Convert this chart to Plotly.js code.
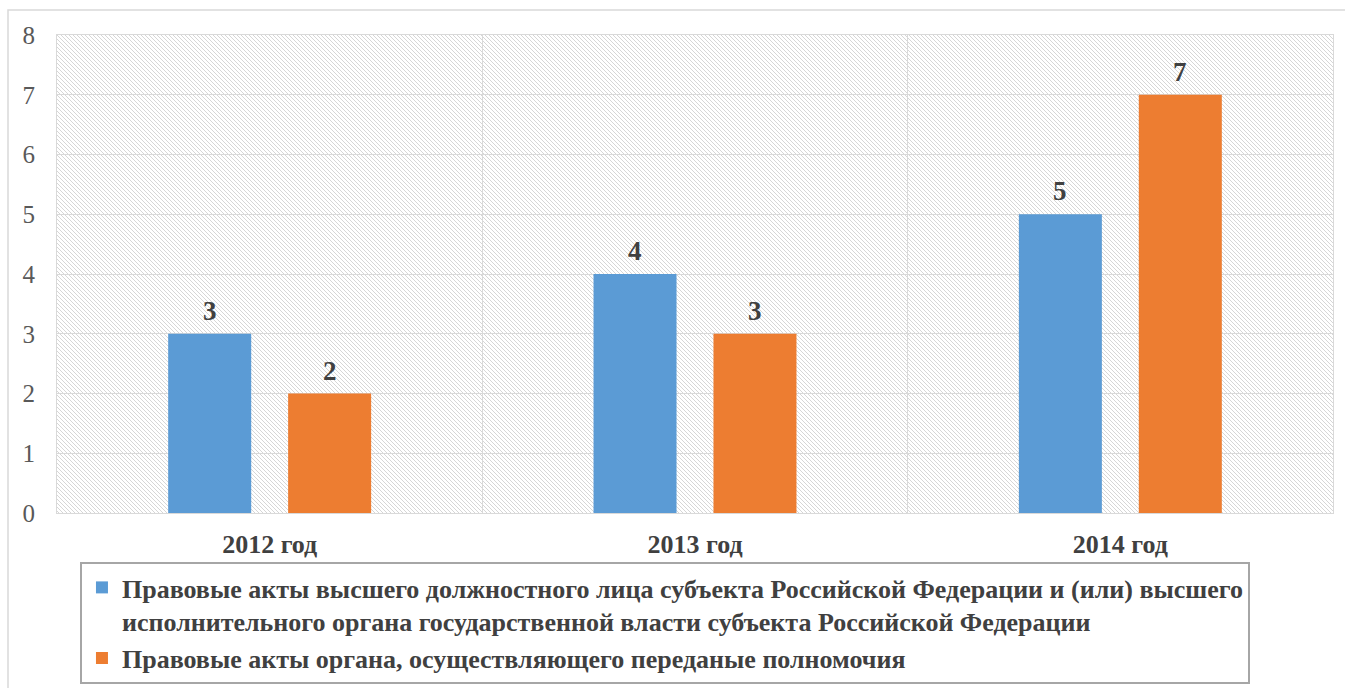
<!DOCTYPE html>
<html>
<head>
<meta charset="utf-8">
<script src="https://cdn.plot.ly/plotly-3.0.1.min.js"></script>
<style>html,body{margin:0;padding:0;background:#fff;}#chart{width:1345px;height:688px;}</style>
</head>
<body>
<div id="chart"></div>
<script>
const categories = ["2012 год", "2013 год", "2014 год"];
const seriesNames = [
  "Правовые акты высшего должностного лица субъекта Российской Федерации и (или) высшего<br>исполнительного органа государственной власти субъекта Российской Федерации",
  "Правовые акты органа, осуществляющего переданые полномочия"
];
const seriesA = [3, 4, 5];
const seriesB = [2, 3, 7];
const yTicks = [0, 1, 2, 3, 4, 5, 6, 7, 8];

const colors = ["#5B9BD5", "#ED7D31"];
const serif = "'Liberation Serif', 'Times New Roman', serif";

const traces = [seriesA, seriesB].map((vals, k) => ({
  type: "bar",
  name: seriesNames[k],
  x: categories,
  y: vals,
  marker: { color: colors[k] },
  hoverinfo: "skip"
}));

// data labels from the series arrays
const annotations = [];
[seriesA, seriesB].forEach((vals, k) => {
  vals.forEach((v, i) => {
    annotations.push({
      x: categories[i], y: v, xref: "x", yref: "y",
      text: "<b>" + v + "</b>", showarrow: false,
      xshift: k === 0 ? -60 : 60, yshift: 6, yanchor: "bottom",
      font: { family: serif, size: 27, color: "#404040" }
    });
  });
});

// hatch pattern background for plot area
const W = 1276, H = 478;
const svg = '<svg xmlns="http://www.w3.org/2000/svg" width="' + W + '" height="' + H + '" preserveAspectRatio="none">' +
  '<defs><pattern id="p" width="4" height="4" patternUnits="userSpaceOnUse">' +
  '<path d="M-1,-1 L5,5 M-1,3 L1,5 M3,-1 L5,1" stroke="#d6d6d6" stroke-width="1"/></pattern></defs>' +
  '<rect width="100%" height="100%" fill="#ffffff"/><rect width="100%" height="100%" fill="url(#p)"/></svg>';
const src = "data:image/svg+xml;charset=utf-8," + encodeURIComponent(svg);

const layout = {
  width: 1345, height: 688,
  margin: { l: 57, r: 12, t: 35, b: 175, autoexpand: false },
  paper_bgcolor: "#ffffff",
  plot_bgcolor: "rgba(0,0,0,0)",
  barmode: "group",
  bargap: 0.436,
  bargroupgap: 0.308,
  font: { family: serif, color: "#595959" },
  showlegend: true,
  legend: {
    x: 0.018, xanchor: "left", y: -0.1025, yanchor: "top",
    orientation: "v",
    bordercolor: "#a6a6a6", borderwidth: 2,
    bgcolor: "#ffffff",
    valign: "top",
    font: { family: serif, size: 26, color: "#404040", weight: "bold" }
  },
  xaxis: {
    type: "category",
    tickson: "boundaries",
    showgrid: true, gridcolor: "#d9d9d9", gridwidth: 1,
    showline: true, linecolor: "#d9d9d9", linewidth: 1, mirror: true,
    ticks: "",
    ticklabelstandoff: 8,
    tickfont: { family: serif, size: 26, color: "#404040", weight: "bold" },
    fixedrange: true
  },
  yaxis: {
    range: [0, 8],
    tickvals: yTicks,
    showgrid: true, gridcolor: "#d9d9d9", gridwidth: 1,
    zeroline: false,
    showline: true, linecolor: "#d9d9d9", linewidth: 1, mirror: true,
    ticks: "",
    ticklabelstandoff: 16,
    tickfont: { family: serif, size: 25, color: "#595959" },
    fixedrange: true
  },
  images: [{
    source: src, xref: "paper", yref: "paper",
    x: 0, y: 1, sizex: 1, sizey: 1, xanchor: "left", yanchor: "top",
    sizing: "stretch", layer: "below"
  }],
  shapes: [{
    type: "rect", xref: "paper", yref: "paper",
    x0: -0.0384, x1: 1.02, y0: -0.5, y1: 1.0523,
    line: { color: "#d9d9d9", width: 1.5 }, fillcolor: "rgba(0,0,0,0)", layer: "below"
  }],
  annotations: annotations
};

Plotly.newPlot("chart", traces, layout, { displayModeBar: false, staticPlot: true });
</script>
</body>
</html>
